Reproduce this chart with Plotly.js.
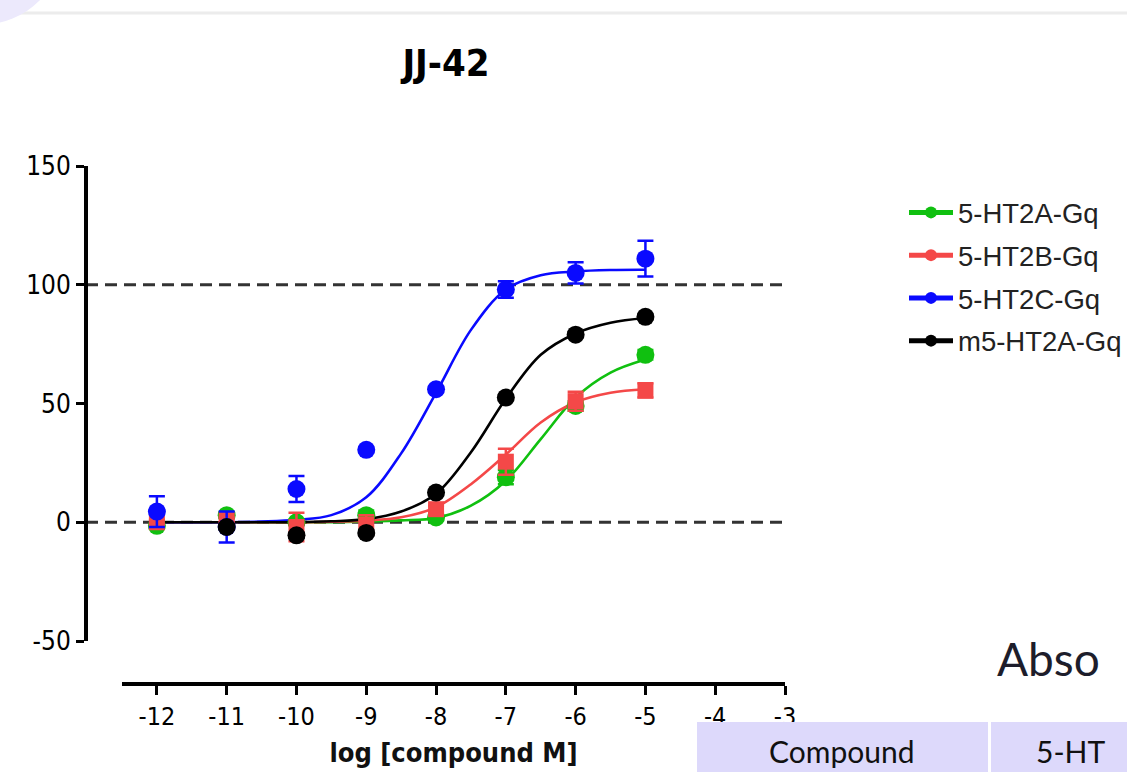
<!DOCTYPE html>
<html>
<head>
<meta charset="utf-8">
<script src="https://cdn.plot.ly/plotly-3.0.1.min.js"></script>
<style>html,body{margin:0;padding:0;background:#fff;}#chart{width:1127px;height:772px;}</style>
</head>
<body>
<div id="chart"></div>
<script>
// ---- data ----
const seriesNames = ['5-HT2A-Gq', '5-HT2B-Gq', '5-HT2C-Gq', 'm5-HT2A-Gq'];
const doseLog = [-12, -11, -10, -9, -8, -7, -6, -5];
const doseLogBlack = [-11, -10, -9, -8, -7, -6, -5];

const respA = [-1.5, 3, 0, 3, 2, 19, 49, 70.5];
const errA = [1, 1, 1, 2, 1, 3, 2, 2];
const respB = [0, 1, -2, -1, 5.5, 25.5, 51, 55.5];
const errB = [1, 1, 6, 4, 1.5, 5.5, 4, 3];
const respC = [4.5, -2, 14, 30.5, 56, 98, 105, 111];
const errC = [6.5, 6.5, 5.5, 1, 1, 3.5, 4.5, 7.5];
const respM = [-2, -5.5, -4.5, 12.5, 52.5, 79, 86.5];
const errM = [1, 1, 1, 1, 1, 1, 1];

// fitted curves at half-log steps
const curveX = [-12, -11.5, -11, -10.5, -10, -9.5, -9, -8.5, -8, -7.5, -7, -6.5, -6, -5.5, -5];
const curveA = [0, 0, 0, 0, 0, 0, 0.3, 0.8, 1.8, 7, 17.5, 35, 52.5, 63, 68.5];
const curveB = [0, 0, 0, 0, 0, 0.2, 0.7, 2.1, 6.3, 16, 28.5, 42, 50.5, 54.5, 56];
const curveC = [0, 0, 0, 0.3, 1, 3, 10.5, 29, 54.5, 81, 98, 104, 105.6, 106.2, 106.3];
const curveM = [0, 0, 0, 0, 0, 0.4, 1.3, 4.5, 12, 29.5, 52, 70.5, 79.5, 84, 86];

const xTicks = [-12, -11, -10, -9, -8, -7, -6, -5, -4, -3];
const xTickText = ['-12', '-11', '-10', '-9', '-8', '-7', '-6', '-5', '-4', '-3'];
const yTicks = [-50, 0, 50, 100, 150];
const yTickText = ['-50', '0', '50', '100', '150'];
const refLevels = [0, 100];

const titleText = 'JJ-42';
const xTitle = 'log [compound M]';

// ---- styling ----
const colors = ['#10c010', '#f44848', '#0a0aff', '#000000'];
const symbols = ['circle', 'square', 'circle', 'circle'];
const NARROW = "'Liberation Sans Narrow', 'DejaVu Sans Condensed', 'Arial Narrow', 'Liberation Sans', sans-serif";
const ARIAL = "'Liberation Sans', Arial, sans-serif";

const curveYs = [curveA, curveB, curveC, curveM];
const ptsX = [doseLog, doseLog, doseLog, doseLogBlack];
const ptsY = [respA, respB, respC, respM];
const ptsE = [errA, errB, errC, errM];

const traces = [];
for (let i = 0; i < 4; i++) {
  traces.push({
    type: 'scatter', mode: 'lines+markers', name: seriesNames[i],
    x: curveX, y: curveYs[i], legendgroup: 'g' + i, showlegend: true,
    line: {color: colors[i], width: 2.6, shape: 'spline', smoothing: 1},
    marker: {color: colors[i], size: 1, symbol: 'circle'},
    hoverinfo: 'skip'
  });
}
for (let i = 0; i < 4; i++) {
  traces.push({
    type: 'scatter', mode: 'markers', name: seriesNames[i],
    x: ptsX[i], y: ptsY[i], legendgroup: 'g' + i, showlegend: false,
    marker: {color: colors[i], size: symbols[i] === 'square' ? 16 : 18, symbol: symbols[i]},
    error_y: {type: 'data', array: ptsE[i], visible: true, color: colors[i], thickness: 2.5, width: 8}
  });
}

const W = 1127, H = 772, L = 86, R = 342, T = 166, B = 88;
const pw = W - L - R, ph = H - T - B;
const px = v => (v - L) / pw;          // pixel -> paper x
const py = v => (H - B - v) / ph;      // pixel -> paper y

const shapes = refLevels.map(v => ({
  type: 'line', xref: 'paper', yref: 'y', x0: 0, x1: 1, y0: v, y1: v,
  line: {color: '#333333', width: 3, dash: '12px,7px'}, layer: 'below'
}));
// page decoration around the chart
shapes.push({type: 'line', xref: 'paper', yref: 'paper', x0: px(14), x1: px(1130), y0: py(13), y1: py(13),
  line: {color: '#ececec', width: 3}});
shapes.push({type: 'circle', xref: 'paper', yref: 'paper', x0: px(-105), x1: px(65), y0: py(25), y1: py(-145),
  fillcolor: '#ece9fc', line: {width: 0}});
shapes.push({type: 'rect', xref: 'paper', yref: 'paper', x0: px(697), x1: px(988), y0: py(722), y1: py(790),
  fillcolor: '#ddd9fb', line: {width: 0}});
shapes.push({type: 'rect', xref: 'paper', yref: 'paper', x0: px(991), x1: px(1140), y0: py(722), y1: py(790),
  fillcolor: '#ddd9fb', line: {width: 0}});

const annotations = [
  {text: 'Abso', xref: 'paper', yref: 'paper', x: px(995), y: py(658), xanchor: 'left', yanchor: 'middle',
   showarrow: false, font: {family: "Lato, Inter, sans-serif", size: 46, color: '#1d1d2b'}},
  {text: 'Compound', xref: 'paper', yref: 'paper', x: px(842), y: py(751), xanchor: 'center', yanchor: 'middle',
   showarrow: false, font: {family: "Lato, Inter, sans-serif", size: 30, color: '#111'}},
  {text: '5-HT', xref: 'paper', yref: 'paper', x: px(1034), y: py(751), xanchor: 'left', yanchor: 'middle',
   showarrow: false, font: {family: "Lato, Inter, sans-serif", size: 30, color: '#111'}}
];

const layout = {
  width: W, height: H,
  margin: {l: L, r: R, t: T, b: B, pad: 0, autoexpand: false},
  paper_bgcolor: '#ffffff', plot_bgcolor: 'rgba(0,0,0,0)',
  showlegend: true,
  title: {text: titleText, xref: 'paper', x: px(446), xanchor: 'center', yref: 'container', y: 1 - 63 / H, yanchor: 'middle',
          font: {family: NARROW, size: 38, color: '#000', weight: 'bold'}},
  xaxis: {
    domain: [px(122), 1], anchor: 'free', position: 0, automargin: false,
    range: [-12.5, -3], tickvals: xTicks, ticktext: xTickText,
    showline: true, linewidth: 4, linecolor: '#000', mirror: false,
    ticks: 'outside', ticklen: 9, tickwidth: 3, tickcolor: '#000',
    showgrid: false, zeroline: false,
    tickfont: {family: NARROW, size: 25, color: '#000'},
    title: {text: xTitle, standoff: 12, font: {family: NARROW, size: 27, color: '#111', weight: 'bold'}}
  },
  yaxis: {
    domain: [py(641), 1], anchor: 'free', position: 0, automargin: false,
    range: [-50, 150], tickvals: yTicks, ticktext: yTickText,
    showline: true, linewidth: 4, linecolor: '#000',
    ticks: 'outside', ticklen: 8, tickwidth: 3, tickcolor: '#000',
    showgrid: false, zeroline: false,
    tickfont: {family: NARROW, size: 26, color: '#000'}
  },
  legend: {
    x: px(904), y: py(188), xanchor: 'left', yanchor: 'top',
    font: {family: ARIAL, size: 27.5, color: '#222'},
    itemsizing: 'constant', tracegroupgap: 4, bgcolor: 'rgba(0,0,0,0)', itemwidth: 44
  },
  shapes: shapes,
  annotations: annotations
};

Plotly.newPlot('chart', traces, layout, {displayModeBar: false, staticPlot: true});
</script>
</body>
</html>
